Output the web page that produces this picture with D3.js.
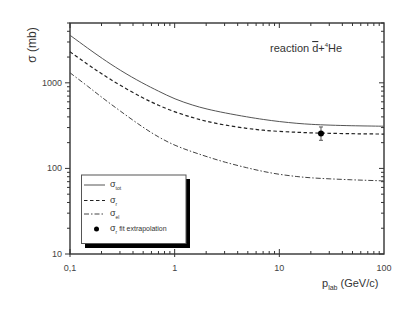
<!DOCTYPE html>
<html>
<head>
<meta charset="utf-8">
<script src="https://cdn.jsdelivr.net/npm/d3@7"></script>
<style>
  body { margin: 0; background: #fff; }
  svg { font-family: "Liberation Sans", Arial, sans-serif; }
</style>
</head>
<body>
<svg id="grafico"></svg>
<script>
// momentum p_lab (GeV/c)
const momentos = [0.1, 0.15, 0.2, 0.3, 0.5, 0.7, 1, 1.5, 2, 3, 5, 7, 10, 15, 20, 30, 50, 70, 100];
// sigma_tot (mb)
const sigmaTot = [3600, 2500, 1950, 1400, 980, 800, 645, 545, 495, 445, 398, 373, 352, 335, 327, 320, 315, 313, 311];
// sigma_r (mb)
const sigmaR = [2300, 1620, 1275, 935, 660, 545, 457, 390, 355, 320, 292, 279, 270, 264, 260, 257, 254, 253, 252];
// sigma_el (mb)
const sigmaEl = [1310, 900, 680, 470, 300, 232, 185, 155, 138, 118, 101, 92, 85, 80, 77.5, 75.5, 73.5, 72.5, 71.5];
// sigma_r fit extrapolation point
const pontoFit = [{ p: 25, valor: 256, min: 213, max: 305 }];

const xTicks = [0.1, 1, 10, 100];
const xTickLabels = ["0,1", "1", "10", "100"];
const yTicks = [10, 100, 1000];
const yTickLabels = ["10", "100", "1000"];

const largura = 415, altura = 317;
const esq = 70, dir = 384, topo = 23, base = 254;

const svg = d3.select("#grafico")
    .attr("width", largura)
    .attr("height", altura);

const fnX = d3.scaleLog().domain([0.1, 100]).range([esq, dir]);
const fnY = d3.scaleLog().domain([10, 5000]).range([base, topo]);

const corEixo = "#333";

// minor ticks
function menores(dom) {
    let out = [];
    for (let d = Math.log10(dom[0]); d < Math.log10(dom[1]); d++) {
        for (let k = 1; k <= 9; k++) {
            let v = k * Math.pow(10, d);
            if (v >= dom[0] && v <= dom[1] + 1e-9) out.push(v);
        }
    }
    return out;
}
const xMen = menores([0.1, 100]);
const yMen = menores([10, 10000]).filter(v => v <= 5000);

const eixos = svg.append("g").attr("stroke", corEixo).attr("stroke-width", 1);

// bottom/top ticks
xMen.forEach(v => {
    let maior = xTicks.includes(v);
    eixos.append("line")
        .attr("x1", fnX(v)).attr("x2", fnX(v))
        .attr("y1", base + (maior ? 3 : 0)).attr("y2", base - (maior ? 5 : 3));
    eixos.append("line")
        .attr("x1", fnX(v)).attr("x2", fnX(v))
        .attr("y1", topo).attr("y2", topo + (maior ? 5 : 3));
});
// left/right ticks
yMen.forEach(v => {
    let maior = yTicks.includes(v);
    eixos.append("line")
        .attr("x1", esq - (maior ? 5 : 3)).attr("x2", esq)
        .attr("y1", fnY(v)).attr("y2", fnY(v));
    eixos.append("line")
        .attr("x1", dir - (maior ? 5 : 3)).attr("x2", dir)
        .attr("y1", fnY(v)).attr("y2", fnY(v));
});

eixos.append("rect")
    .attr("x", esq).attr("y", topo)
    .attr("width", dir - esq).attr("height", base - topo)
    .attr("fill", "none")
    .attr("stroke-width", 1.4);

// tick labels
svg.selectAll(".rotuloX")
    .data(xTicks)
    .enter()
    .append("text")
    .attr("x", d => fnX(d))
    .attr("y", 271)
    .attr("text-anchor", "middle")
    .attr("font-size", 9)
    .attr("fill", "#444")
    .text((d, i) => xTickLabels[i]);

svg.selectAll(".rotuloY")
    .data(yTicks)
    .enter()
    .append("text")
    .attr("x", 62)
    .attr("y", d => fnY(d) + 3)
    .attr("text-anchor", "end")
    .attr("font-size", 9)
    .attr("fill", "#444")
    .text((d, i) => yTickLabels[i]);

// axis titles
svg.append("text")
    .attr("transform", "translate(36,45) rotate(-90)")
    .attr("text-anchor", "middle")
    .attr("font-size", 12)
    .attr("fill", "#333")
    .text("σ (mb)");

const tx = svg.append("text")
    .attr("x", 322).attr("y", 287)
    .attr("font-size", 11)
    .attr("fill", "#333");
tx.append("tspan").text("p");
tx.append("tspan").attr("font-size", 7).attr("dy", 3).text("lab");
tx.append("tspan").attr("dy", -3).text(" (GeV/c)");

// reaction label
const tr = svg.append("text")
    .attr("x", 270).attr("y", 52)
    .attr("font-size", 11)
    .attr("fill", "#333");
tr.append("tspan").text("reaction ");
tr.append("tspan").attr("text-decoration", "overline").text("d");
tr.append("tspan").text("+");
tr.append("tspan").attr("font-size", 6).attr("dy", -5).text("4");
tr.append("tspan").attr("dy", 5).text("He");

// curves
const linha = d3.line()
    .x(d => fnX(d[0]))
    .y(d => fnY(d[1]))
    .curve(d3.curveBasis);

const series = [
    { valores: sigmaTot, cor: "#555", tra: null, larg: 1 },
    { valores: sigmaR, cor: "#222", tra: "3.5,2.5", larg: 1.2 },
    { valores: sigmaEl, cor: "#444", tra: "5,2,1.5,2", larg: 1 }
];

const plotagem = svg.append("g");
series.forEach(s => {
    plotagem.append("path")
        .datum(momentos.map((p, i) => [p, s.valores[i]]))
        .attr("d", linha)
        .attr("fill", "none")
        .attr("stroke", s.cor)
        .attr("stroke-width", s.larg)
        .attr("stroke-dasharray", s.tra);
});

// fit point with error bar
plotagem.selectAll(".erro")
    .data(pontoFit)
    .enter()
    .append("g")
    .each(function (d) {
        let g = d3.select(this);
        let x = fnX(d.p);
        g.append("line").attr("x1", x).attr("x2", x)
            .attr("y1", fnY(d.min)).attr("y2", fnY(d.max))
            .attr("stroke", "#555").attr("stroke-width", 1);
        [d.min, d.max].forEach(v => g.append("line")
            .attr("x1", x - 2).attr("x2", x + 2)
            .attr("y1", fnY(v)).attr("y2", fnY(v))
            .attr("stroke", "#555").attr("stroke-width", 1));
        g.append("circle").attr("cx", x).attr("cy", fnY(d.valor)).attr("r", 3).attr("fill", "#000");
    });

// legend
const leg = svg.append("g");
leg.append("rect").attr("x", 85).attr("y", 179).attr("width", 105).attr("height", 69).attr("fill", "#000");
leg.append("rect").attr("x", 81.5).attr("y", 175).attr("width", 104.5).attr("height", 68.5)
    .attr("fill", "#fff").attr("stroke", "#555").attr("stroke-width", 1);

const itens = [
    { y: 185, sub: "tot", tra: null, cor: "#555", texto: "" },
    { y: 200.5, sub: "r", tra: "3.5,2.5", cor: "#222", texto: "" },
    { y: 214, sub: "el", tra: "5,2,1.5,2", cor: "#444", texto: "" },
    { y: 229, sub: "r", tra: "ponto", cor: "#000", texto: " fit extrapolation" }
];
itens.forEach(it => {
    if (it.tra === "ponto") {
        leg.append("circle").attr("cx", 96.5).attr("cy", it.y).attr("r", 2.5).attr("fill", "#000");
    } else {
        leg.append("line").attr("x1", 84).attr("x2", 105)
            .attr("y1", it.y).attr("y2", it.y)
            .attr("stroke", it.cor).attr("stroke-width", 1)
            .attr("stroke-dasharray", it.tra);
    }
    let t = leg.append("text").attr("x", 110).attr("y", it.y + 2)
        .attr("font-size", 9).attr("fill", "#333");
    t.append("tspan").text("σ");
    t.append("tspan").attr("font-size", 5).attr("dy", 3).text(it.sub);
    if (it.texto) t.append("tspan").attr("dy", -3).attr("font-size", 7).text(it.texto);
});
</script>
</body>
</html>
